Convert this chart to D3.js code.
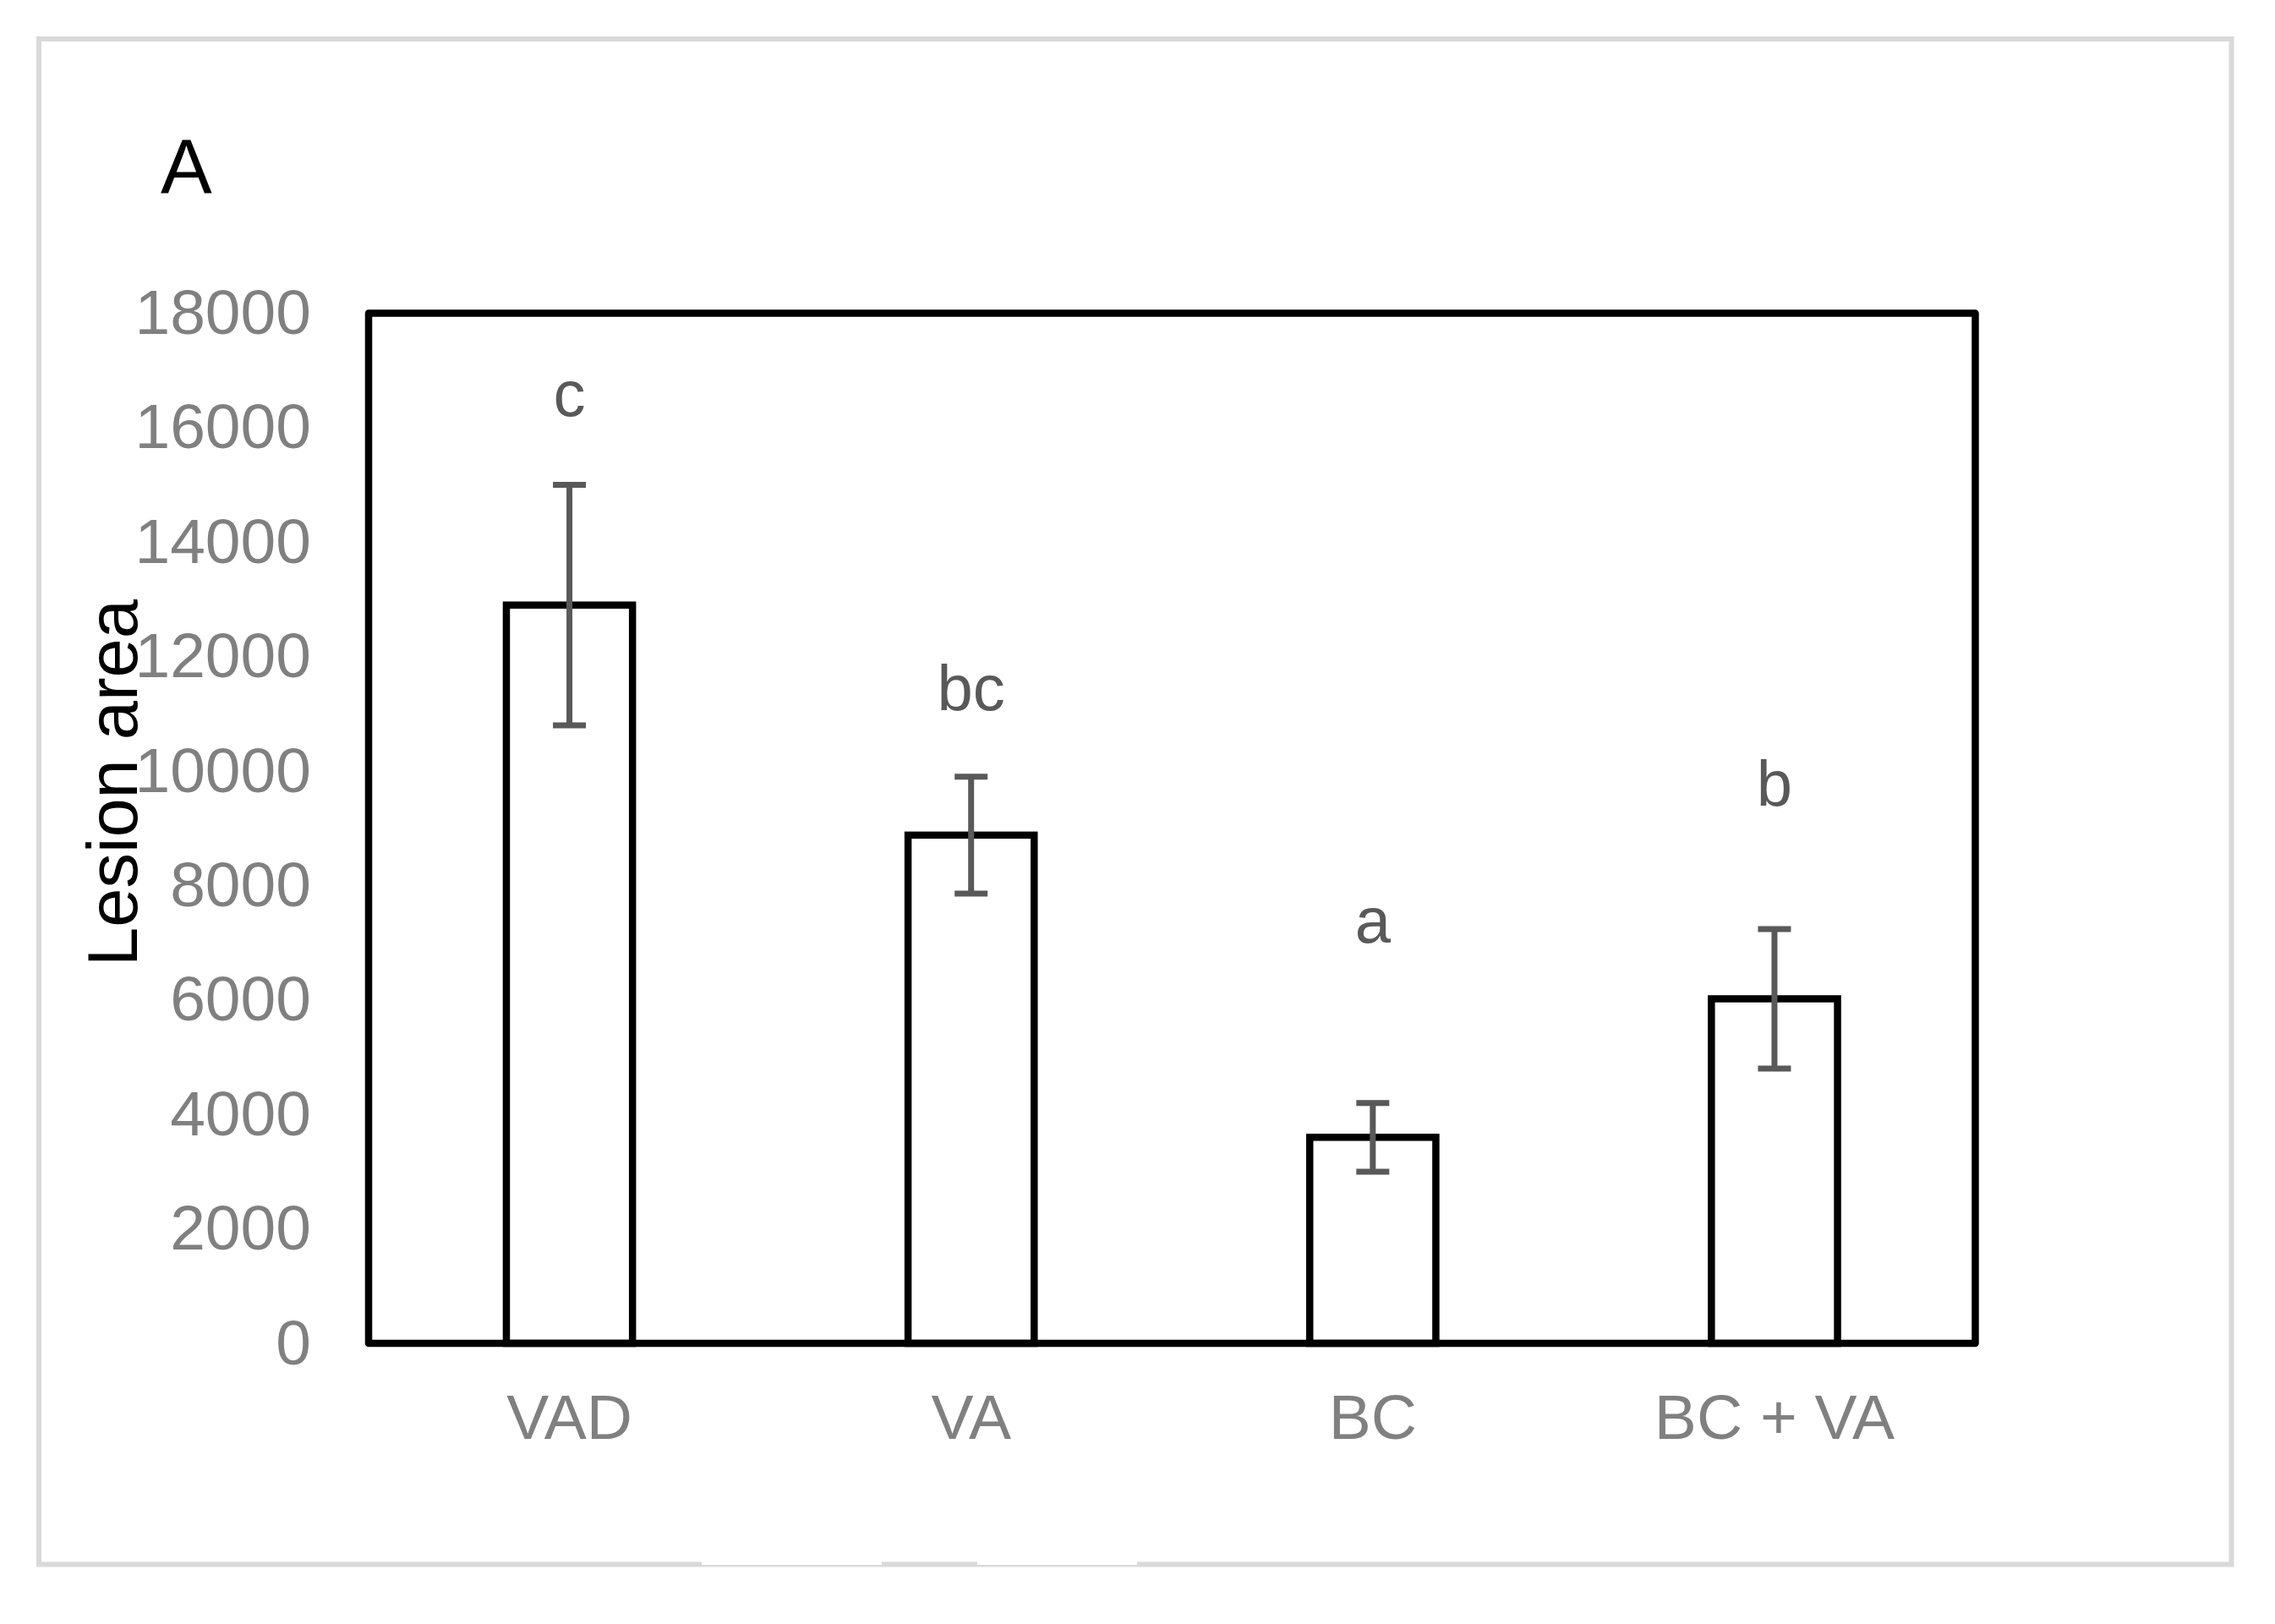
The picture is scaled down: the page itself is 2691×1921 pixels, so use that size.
<!DOCTYPE html>
<html>
<head>
<meta charset="utf-8">
<script src="https://cdn.jsdelivr.net/npm/d3@7"></script>
<style>
  html, body { margin: 0; padding: 0; background: #ffffff; }
  svg { display: block; }
  text { font-family: "Liberation Sans", Arial, sans-serif; }
</style>
</head>
<body>
<script>
// ---- data ----
const categories = ["VAD", "VA", "BC", "BC + VA"];
const means = [12900, 8880, 3600, 6020];
const errors = [2100, 1020, 600, 1220];
const letters = ["c", "bc", "a", "b"];
const letterValues = [16200, 11060, 7000, 9390];
const yTicks = [0, 2000, 4000, 6000, 8000, 10000, 12000, 14000, 16000, 18000];
const yTitle = "Lesion area";
const panelLabel = "A";

// ---- layout ----
const W = 2691, H = 1921;
const plot = { left: 436, right: 2336.5, top: 370.5, bottom: 1589 };

const svg = d3.select("body").append("svg")
  .attr("width", W).attr("height", H);

svg.append("rect").attr("width", W).attr("height", H).attr("fill", "#ffffff");

// outer light border
svg.append("rect")
  .attr("x", 46).attr("y", 46).attr("width", 2593.5).attr("height", 1804.5)
  .attr("fill", "none").attr("stroke", "#d9d9d9").attr("stroke-width", 6);
// small gaps in bottom border
[[830, 1043], [1156, 1345]].forEach(g => {
  svg.append("rect").attr("x", g[0]).attr("y", 1847).attr("width", g[1] - g[0]).attr("height", 4)
    .attr("fill", "#ffffff");
});

const x = d3.scaleBand()
  .domain(categories)
  .range([plot.left, plot.right])
  .paddingInner(0.686)
  .paddingOuter(0.343);

const y = d3.scaleLinear()
  .domain([0, 18000])
  .range([plot.bottom, plot.top]);

const rows = categories.map((c, i) => ({ c, m: means[i], e: errors[i], l: letters[i], lv: letterValues[i] }));

// bars
svg.append("g").selectAll("rect").data(rows).join("rect")
  .attr("x", d => x(d.c))
  .attr("y", d => y(d.m))
  .attr("width", x.bandwidth())
  .attr("height", d => y(0) - y(d.m))
  .attr("fill", "#ffffff")
  .attr("stroke", "#000000")
  .attr("stroke-width", 8.5);

// plot frame
svg.append("rect")
  .attr("x", plot.left).attr("y", plot.top)
  .attr("width", plot.right - plot.left).attr("height", plot.bottom - plot.top)
  .attr("fill", "none").attr("stroke", "#000000").attr("stroke-width", 8.5)
  .attr("stroke-linejoin", "round");

// error bars
const eb = svg.append("g").attr("stroke", "#595959").attr("stroke-width", 7);
const cx = d => x(d.c) + x.bandwidth() / 2;
eb.selectAll("line.v").data(rows).join("line").attr("class", "v")
  .attr("x1", cx).attr("x2", cx)
  .attr("y1", d => y(d.m + d.e)).attr("y2", d => y(d.m - d.e));
eb.selectAll("line.t").data(rows).join("line").attr("class", "t")
  .attr("x1", d => cx(d) - 19.5).attr("x2", d => cx(d) + 19.5)
  .attr("y1", d => y(d.m + d.e)).attr("y2", d => y(d.m + d.e));
eb.selectAll("line.b").data(rows).join("line").attr("class", "b")
  .attr("x1", d => cx(d) - 19.5).attr("x2", d => cx(d) + 19.5)
  .attr("y1", d => y(d.m - d.e)).attr("y2", d => y(d.m - d.e));

// significance letters
svg.append("g").selectAll("text").data(rows).join("text")
  .attr("x", cx)
  .attr("y", d => y(d.lv))
  .attr("text-anchor", "middle")
  .attr("font-size", 76)
  .attr("fill", "#595959")
  .text(d => d.l);

// y axis
const yAxis = svg.append("g")
  .attr("transform", `translate(${plot.left},0)`)
  .call(d3.axisLeft(y).tickValues(yTicks).tickFormat(d3.format("d")).tickSize(0).tickPadding(68));
yAxis.select(".domain").remove();
yAxis.selectAll("text")
  .attr("font-size", 75)
  .attr("font-family", "'Liberation Sans', Arial, sans-serif")
  .attr("fill", "#808080");

// x axis
const xAxis = svg.append("g")
  .attr("transform", `translate(0,${plot.bottom})`)
  .call(d3.axisBottom(x).tickSize(0).tickPadding(60));
xAxis.select(".domain").remove();
xAxis.selectAll("text")
  .attr("font-size", 75)
  .attr("font-family", "'Liberation Sans', Arial, sans-serif")
  .attr("fill", "#808080");

// y title
svg.append("text")
  .attr("transform", "translate(162,926) rotate(-90)")
  .attr("text-anchor", "middle")
  .attr("font-size", 83)
  .attr("fill", "#000000")
  .text(yTitle);

// panel label
svg.append("text")
  .attr("x", 190).attr("y", 228)
  .attr("font-size", 91)
  .attr("fill", "#000000")
  .text(panelLabel);
</script>
</body>
</html>
